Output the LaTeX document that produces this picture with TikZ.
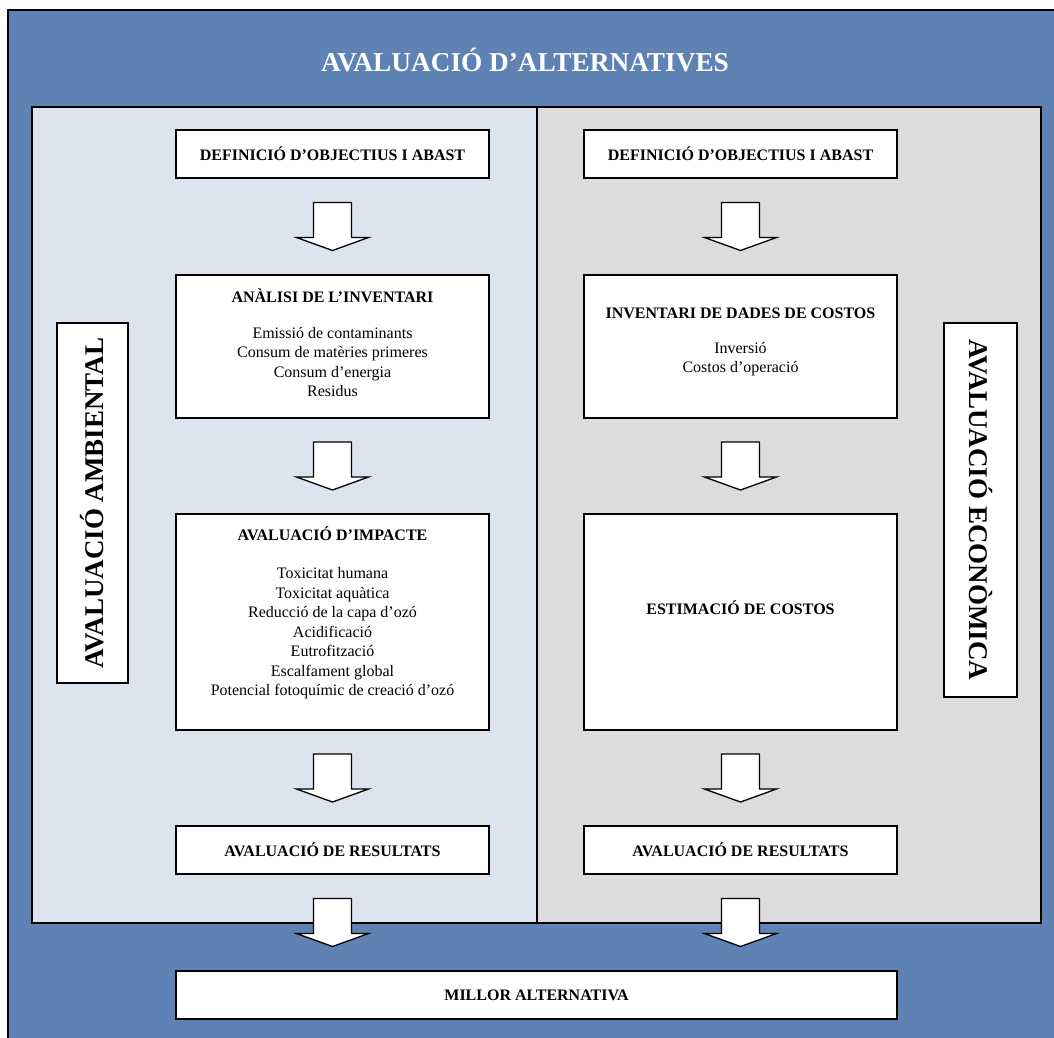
\documentclass[tikz,border=0pt]{standalone}
\usepackage{fontspec}
\setmainfont{Liberation Serif}
\usetikzlibrary{calc,positioning}
\definecolor{frame}{HTML}{5E82B4}
\definecolor{envpanel}{HTML}{DCE4EF}
\definecolor{ecopanel}{HTML}{DCDCDC}

\tikzset{
  stagebox/.style={draw=black,line width=2pt,fill=white,minimum width=313pt,inner sep=0pt,
    font=\fontsize{16}{19}\selectfont\bfseries},
  sidelabel/.style={draw=black,line width=1.8pt,fill=white,inner sep=0pt,
    font=\fontsize{27}{30}\selectfont\bfseries},
  heading/.style={font=\fontsize{16}{19}\selectfont\bfseries},
  items/.style={font=\fontsize{16}{19.5}\selectfont,align=center},
  bigdown/.pic={\draw[fill=white,line width=1.3pt,line join=miter]
    (-19,-24) -- (-19,11) -- (-36,11) -- (0,24) -- (36,11) -- (19,11) -- (19,-24) -- cycle;}
}

\begin{document}
\begin{tikzpicture}[x=1pt,y=-1pt]
  \useasboundingbox (0,0) rectangle (1054,1037);
  \clip (0,0) rectangle (1054,1037);

  % outer frame
  \fill[frame] (8,10) rectangle (1060,1045);
  \draw[line width=1.5pt] (8,1045) -- (8,10) -- (1060,10);
  \node[font=\fontsize{27.3}{30}\selectfont\bfseries,text=white] (title) at (525,60) {AVALUACIÓ D’ALTERNATIVES};

  % the two panels
  \draw[line width=2pt,fill=envpanel] (32,107) rectangle (537,923);
  \draw[line width=2pt,fill=ecopanel] (537,107) rectangle (1041,923);

  % side labels
  \node[sidelabel,rotate=90,minimum width=360pt,minimum height=71pt] (envlabel) at (92.5,503) {AVALUACIÓ AMBIENTAL};
  \node[sidelabel,rotate=-90,minimum width=374pt,minimum height=73pt] (ecolabel) at (980.5,510) {AVALUACIÓ ECONÒMICA};

  % environmental column
  \node[stagebox,minimum height=48pt] (def1) at (332.5,154) {DEFINICIÓ D’OBJECTIUS I ABAST};
  \node[stagebox,minimum height=143pt] (inv1) at (332.5,346.5) {};
  \node[heading] (inv1h) at (332.5,296) {ANÀLISI DE L’INVENTARI};
  \node[items] (inv1t) at (332.5,362) {Emissió de contaminants\\Consum de matèries primeres\\Consum d’energia\\Residus};
  \node[stagebox,minimum height=216pt] (imp1) at (332.5,622) {};
  \node[heading] (imp1h) at (332.5,534) {AVALUACIÓ D’IMPACTE};
  \node[items] (imp1t) at (332.5,633.5) {Toxicitat humana\\Toxicitat aquàtica\\Reducció de la capa d’ozó\\Acidificació\\Eutrofització\\Escalfament global\\Potencial fotoquímic de creació d’ozó};
  \node[stagebox,minimum height=48pt] (res1) at (332.5,850) {AVALUACIÓ DE RESULTATS};

  % economic column
  \node[stagebox,minimum height=48pt] (def2) at (740.5,154) {DEFINICIÓ D’OBJECTIUS I ABAST};
  \node[stagebox,minimum height=143pt] (inv2) at (740.5,346.5) {};
  \node[heading] (inv2h) at (740.5,313) {INVENTARI DE DADES DE COSTOS};
  \node[items] (inv2t) at (740.5,359) {Inversió\\Costos d’operació};
  \node[stagebox,minimum height=216pt] (est2) at (740.5,622) {};
  \node[heading] (est2h) at (740.5,608) {ESTIMACIÓ DE COSTOS};
  \node[stagebox,minimum height=48pt] (res2) at (740.5,850) {AVALUACIÓ DE RESULTATS};

  % result
  \node[stagebox,minimum width=721pt,minimum height=48pt] (best) at (536.5,995) {MILLOR ALTERNATIVA};

  % block arrows
  \pic at ($(def1.south)!0.5!(inv1.north)$) {bigdown};
  \pic at ($(inv1.south)!0.5!(imp1.north)$) {bigdown};
  \pic at ($(imp1.south)!0.5!(res1.north)$) {bigdown};
  \pic at ($(res1.south)!0.5!(res1.south |- best.north)$) {bigdown};
  \pic at ($(def2.south)!0.5!(inv2.north)$) {bigdown};
  \pic at ($(inv2.south)!0.5!(est2.north)$) {bigdown};
  \pic at ($(est2.south)!0.5!(res2.north)$) {bigdown};
  \pic at ($(res2.south)!0.5!(res2.south |- best.north)$) {bigdown};
\end{tikzpicture}
\end{document}
